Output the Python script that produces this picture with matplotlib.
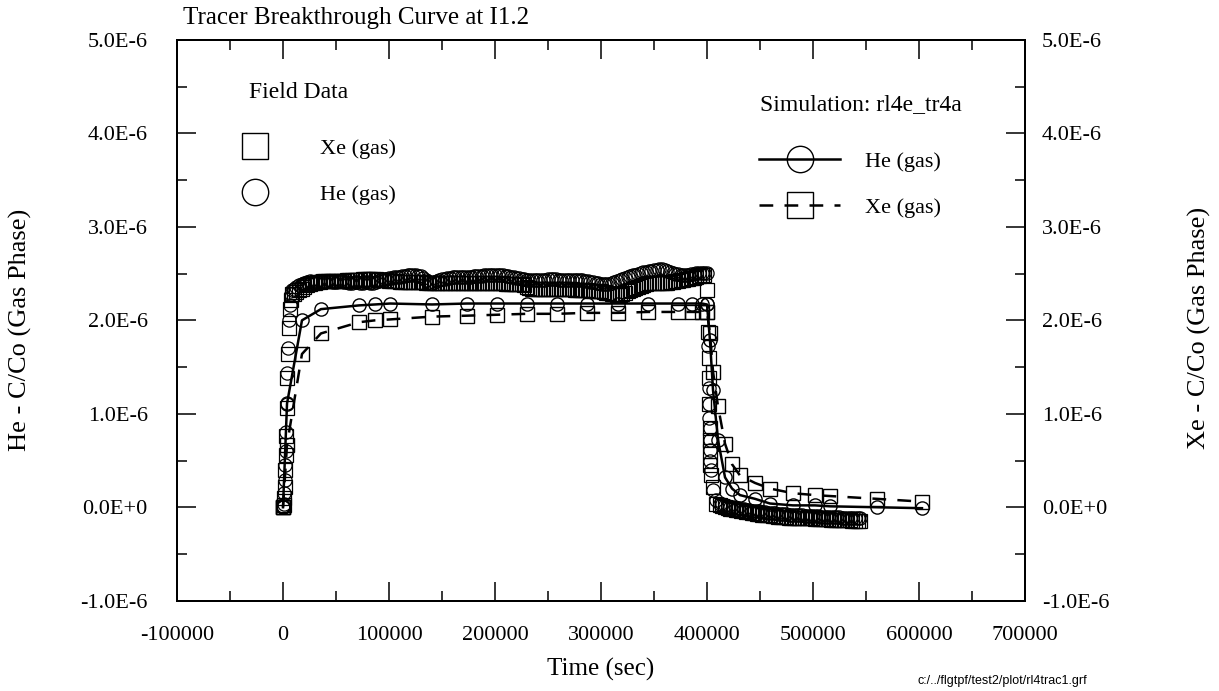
import numpy as np
import matplotlib
matplotlib.use("Agg")
import matplotlib.pyplot as plt
from matplotlib.lines import Line2D
from matplotlib.ticker import MultipleLocator, FuncFormatter

plt.rcParams["font.family"] = ["Liberation Serif", "DejaVu Serif"]

# ---- field data (C/Co in units of 1e-6) ----
rise_time = [0, 200, 400, 700, 1000, 1500, 2000, 2500, 3000, 3500, 4000, 4500, 5500, 6500, 7500, 8500]
rise_he = [0.0, 0.0, 0.01, 0.03, 0.15, 0.29, 0.45, 0.60, 0.80, 1.12, 1.44, 1.70, 2.00, 2.16, 2.28, 2.32]
rise_xe = [0.0, 0.0, 0.0, 0.02, 0.10, 0.22, 0.40, 0.56, 0.76, 1.06, 1.38, 1.64, 1.92, 2.12, 2.22, 2.28]

plateau_time = [
    10000, 12500, 15000, 17500, 20000, 22500, 25000, 27500, 30000, 32500,
    35000, 37500, 40000, 42500, 45000, 47500, 50000, 52500, 55000, 57500,
    60000, 62500, 65000, 67500, 70000, 72500, 75000, 77500, 80000, 82500,
    85000, 87500, 90000, 92500, 95000, 97500, 100000, 102500, 105000, 107500,
    110000, 112500, 115000, 117500, 120000, 122500, 125000, 127500, 130000, 132500,
    135000, 137500, 140000, 142500, 145000, 147500, 150000, 152500, 155000, 157500,
    160000, 162500, 165000, 167500, 170000, 172500, 175000, 177500, 180000, 182500,
    185000, 187500, 190000, 192500, 195000, 197500, 200000, 202500, 205000, 207500,
    210000, 212500, 215000, 217500, 220000, 222500, 225000, 227500, 230000, 232500,
    235000, 237500, 240000, 242500, 245000, 247500, 250000, 252500, 255000, 257500,
    260000, 262500, 265000, 267500, 270000, 272500, 275000, 277500, 280000, 282500,
    285000, 287500, 290000, 292500, 295000, 297500, 300000, 302500, 305000, 307500,
    310000, 312500, 315000, 317500, 320000, 322500, 325000, 327500, 330000, 332500,
    335000, 337500, 340000, 342500, 345000, 347500, 350000, 352500, 355000, 357500,
    360000, 362500, 365000, 367500, 370000, 372500, 375000, 377500, 380000, 382500,
    385000, 387500, 390000, 392500, 395000, 397500,
]
plateau_he = [
    2.34, 2.36, 2.38, 2.39, 2.40, 2.41, 2.42, 2.41, 2.41, 2.42,
    2.42, 2.41, 2.41, 2.42, 2.42, 2.41, 2.41, 2.42, 2.42, 2.41,
    2.41, 2.40, 2.40, 2.41, 2.41, 2.40, 2.40, 2.41, 2.41, 2.40,
    2.40, 2.41, 2.42, 2.43, 2.44, 2.44, 2.45, 2.45, 2.46, 2.46,
    2.46, 2.47, 2.47, 2.48, 2.48, 2.48, 2.48, 2.47, 2.47, 2.45,
    2.43, 2.41, 2.40, 2.41, 2.42, 2.43, 2.44, 2.44, 2.45, 2.45,
    2.46, 2.46, 2.46, 2.46, 2.46, 2.46, 2.46, 2.46, 2.47, 2.47,
    2.47, 2.47, 2.48, 2.48, 2.48, 2.48, 2.48, 2.48, 2.48, 2.48,
    2.47, 2.47, 2.46, 2.46, 2.45, 2.45, 2.44, 2.44, 2.43, 2.43,
    2.43, 2.43, 2.43, 2.43, 2.43, 2.43, 2.44, 2.44, 2.44, 2.44,
    2.43, 2.43, 2.43, 2.43, 2.43, 2.43, 2.43, 2.43, 2.43, 2.43,
    2.42, 2.42, 2.41, 2.41, 2.40, 2.40, 2.39, 2.39, 2.39, 2.39,
    2.40, 2.41, 2.42, 2.43, 2.44, 2.45, 2.46, 2.47, 2.48, 2.49,
    2.50, 2.51, 2.52, 2.52, 2.53, 2.53, 2.54, 2.54, 2.55, 2.55,
    2.54, 2.53, 2.52, 2.51, 2.50, 2.50, 2.49, 2.49, 2.49, 2.49,
    2.50, 2.50, 2.51, 2.51, 2.51, 2.51,
]
plateau_xe = [
    2.28, 2.30, 2.32, 2.34, 2.36, 2.38, 2.39, 2.40, 2.40, 2.41,
    2.41, 2.42, 2.42, 2.42, 2.42, 2.42, 2.42, 2.42, 2.42, 2.42,
    2.43, 2.43, 2.43, 2.43, 2.43, 2.43, 2.44, 2.44, 2.44, 2.44,
    2.44, 2.44, 2.43, 2.43, 2.43, 2.43, 2.42, 2.42, 2.42, 2.42,
    2.41, 2.41, 2.41, 2.41, 2.41, 2.41, 2.41, 2.41, 2.41, 2.41,
    2.40, 2.40, 2.40, 2.40, 2.40, 2.40, 2.40, 2.40, 2.40, 2.40,
    2.40, 2.40, 2.40, 2.40, 2.40, 2.40, 2.40, 2.40, 2.40, 2.40,
    2.40, 2.40, 2.40, 2.40, 2.40, 2.40, 2.40, 2.40, 2.40, 2.40,
    2.39, 2.39, 2.39, 2.39, 2.39, 2.39, 2.39, 2.38, 2.36, 2.35,
    2.34, 2.34, 2.34, 2.34, 2.34, 2.34, 2.34, 2.34, 2.34, 2.34,
    2.34, 2.34, 2.34, 2.34, 2.34, 2.34, 2.33, 2.33, 2.32, 2.32,
    2.32, 2.32, 2.31, 2.31, 2.31, 2.31, 2.31, 2.30, 2.29, 2.29,
    2.28, 2.28, 2.27, 2.27, 2.28, 2.29, 2.31, 2.32, 2.34, 2.35,
    2.36, 2.37, 2.38, 2.39, 2.40, 2.40, 2.40, 2.40, 2.40, 2.40,
    2.40, 2.40, 2.41, 2.41, 2.42, 2.42, 2.43, 2.43, 2.44, 2.44,
    2.45, 2.45, 2.46, 2.47, 2.48, 2.49,
]

drop_time = [400000, 400400, 401000, 401600, 402000, 402300, 402600, 402800, 403000, 403200, 403400, 405700, 408500]
drop_he = [2.51, 2.18, 1.73, 1.28, 1.11, 0.96, 0.85, 0.72, 0.61, 0.50, 0.40, 0.18, 0.08]
drop_xe = [2.33, 2.09, 1.87, 1.60, 1.38, 1.10, 0.85, 0.72, 0.60, 0.45, 0.35, 0.22, 0.04]

tail_time = [
    412000, 414500, 417000, 419500, 422000, 424500, 427000, 429500, 432000, 434500,
    437000, 439500, 442000, 444500, 447000, 449500, 452000, 454500, 457000, 459500,
    462000, 464500, 467000, 469500, 472000, 474500, 477000, 479500, 482000, 484500,
    487000, 489500, 492000, 494500, 497000, 499500, 502000, 504500, 507000, 509500,
    512000, 514500, 517000, 519500, 522000, 524500, 527000, 529500, 532000, 534500,
    537000, 539500, 542000, 544500,
]
tail_he = [
    0.04, 0.03, 0.02, 0.01, 0.0, 0.0, -0.01, -0.01, -0.02, -0.02,
    -0.03, -0.03, -0.04, -0.04, -0.04, -0.04, -0.05, -0.05, -0.06, -0.06,
    -0.06, -0.06, -0.07, -0.07, -0.07, -0.07, -0.08, -0.08, -0.08, -0.08,
    -0.08, -0.08, -0.09, -0.09, -0.09, -0.09, -0.09, -0.09, -0.10, -0.10,
    -0.10, -0.10, -0.10, -0.10, -0.10, -0.10, -0.11, -0.11, -0.11, -0.11,
    -0.11, -0.11, -0.11, -0.11,
]
tail_xe = [
    0.02, 0.01, 0.0, -0.01, -0.02, -0.02, -0.03, -0.03, -0.04, -0.04,
    -0.05, -0.05, -0.06, -0.06, -0.07, -0.07, -0.08, -0.08, -0.08, -0.08,
    -0.09, -0.09, -0.10, -0.10, -0.10, -0.10, -0.11, -0.11, -0.11, -0.11,
    -0.12, -0.12, -0.12, -0.12, -0.12, -0.12, -0.13, -0.13, -0.13, -0.13,
    -0.13, -0.13, -0.14, -0.14, -0.14, -0.14, -0.14, -0.14, -0.14, -0.14,
    -0.15, -0.15, -0.15, -0.15,
]

# ---- simulation rl4e_tr4a (C/Co in units of 1e-6) ----
sim_time = [0, 3800, 17900, 35800, 71700, 86800, 101000,
            140600, 173600, 201900, 230200, 258500, 286800, 316000, 344300, 372600, 385800, 395300,
            400000, 402800, 405700, 410400, 417000, 423600, 431100, 445300, 459400, 481100,
            501900, 516000, 560400, 602800]
sim_he = [0.0, 1.11, 2.00, 2.12, 2.16, 2.17, 2.18,
          2.17, 2.18, 2.18, 2.18, 2.18, 2.18, 2.18, 2.18, 2.18, 2.18, 2.18,
          2.17, 1.79, 1.25, 0.72, 0.32, 0.20, 0.13, 0.09, 0.04, 0.02,
          0.02, 0.01, 0.0, -0.01]
sim_xe = [0.0, 0.67, 1.64, 1.86, 1.98, 2.00, 2.01,
          2.04, 2.05, 2.06, 2.07, 2.07, 2.08, 2.08, 2.09, 2.09, 2.09, 2.09,
          2.09, 1.86, 1.45, 1.08, 0.68, 0.46, 0.34, 0.26, 0.20, 0.15,
          0.13, 0.12, 0.09, 0.06]

UNIT = 1e-6
field_time = rise_time + plateau_time + drop_time + tail_time
field_he = np.array(rise_he + plateau_he + drop_he + tail_he) * UNIT
field_xe = np.array(rise_xe + plateau_xe + drop_xe + tail_xe) * UNIT

W, H = 1219, 691
fig = plt.figure(figsize=(W / 100, H / 100), dpi=100)
ax = fig.add_axes([177 / W, 1 - 600.7 / H, (1025 - 177) / W, (600.7 - 40) / H])

mk = dict(ls="none", ms=9.5, mfc="none", mec="k", mew=0.9)
ax.plot(field_time, field_xe, marker="s", **mk)
ax.plot(field_time, field_he, marker="o", **mk)

ax.plot(sim_time, np.array(sim_he) * UNIT, color="k", lw=1.8, marker="o",
        ms=9.5, mfc="none", mec="k", mew=1.0)
ax.plot(sim_time, np.array(sim_xe) * UNIT, color="k", lw=1.8, ls=(0, (5.5, 4.5)),
        marker="s", ms=9.5, mfc="none", mec="k", mew=1.0)

ax.set_xlim(-100000, 700000)
ax.set_ylim(-1e-6, 5e-6)

ax.xaxis.set_major_locator(MultipleLocator(100000))
ax.xaxis.set_minor_locator(MultipleLocator(50000))
ax.xaxis.set_major_formatter(FuncFormatter(lambda v, p: f"{int(round(v))}"))


def fmt_y(v, pos):
    m = v / UNIT
    if abs(m) < 1e-9:
        return "0.0E+0"
    return f"{m:.1f}E-6"


ax2 = ax.twinx()
ax2.set_ylim(ax.get_ylim())
for a in (ax, ax2):
    a.yaxis.set_major_locator(MultipleLocator(1e-6))
    a.yaxis.set_minor_locator(MultipleLocator(0.5e-6))
    a.yaxis.set_major_formatter(FuncFormatter(fmt_y))
    a.yaxis.get_offset_text().set_visible(False)
    for s in a.spines.values():
        s.set_linewidth(1.4)

ax.tick_params(which="both", direction="in", top=True, right=False, width=1.1, labelsize=16)
ax.tick_params(which="major", length=13.5)
ax.tick_params(which="minor", length=7)
ax.tick_params(axis="x", pad=18.5)
ax.tick_params(axis="y", pad=21)
ax2.tick_params(which="both", direction="in", width=1.1, labelsize=16, pad=12)
ax2.tick_params(which="major", length=13.5)
ax2.tick_params(which="minor", length=7)

# titles and axis labels
fig.text(183 / W, 1 - 18 / H, "Tracer Breakthrough Curve at I1.2", fontsize=18, va="center", ha="left")
fig.text(601 / W, 1 - 669 / H, "Time (sec)", fontsize=18, va="center", ha="center")
fig.text(20 / W, 1 - 330 / H, "He - C/Co (Gas Phase)", fontsize=19, rotation=90, va="center", ha="center")
fig.text(1199 / W, 1 - 328 / H, "Xe - C/Co (Gas Phase)", fontsize=19, rotation=90, va="center", ha="center")
fig.text(917 / W, 1 - 681 / H, "c:/../flgtpf/test2/plot/rl4trac1.grf", fontsize=9,
         family="Liberation Sans", va="center", ha="left")

# legends (headings placed separately to get the wide gap under them)
fig.text(249 / W, 1 - 93 / H, "Field Data", fontsize=17, va="center", ha="left")
fig.text(760 / W, 1 - 105 / H, "Simulation: rl4e_tr4a", fontsize=17, va="center", ha="left")

field_handles = [
    Line2D([], [], ls="none", marker="s", ms=19, mfc="none", mec="k", mew=1.0),
    Line2D([], [], ls="none", marker="o", ms=19, mfc="none", mec="k", mew=1.0),
]
leg1 = ax2.legend(field_handles, ["Xe (gas)", "He (gas)"],
                  loc="upper left", bbox_to_anchor=(242 / W, 1 - 138 / H),
                  bbox_transform=fig.transFigure, frameon=False, fontsize=16,
                  handlelength=1.2, handletextpad=2.3,
                  labelspacing=1.17, borderpad=0, borderaxespad=0)
ax2.add_artist(leg1)

sim_handles = [
    Line2D([], [], color="k", lw=1.8, marker="o", ms=19, mfc="none", mec="k", mew=1.0),
    Line2D([], [], color="k", lw=1.8, ls=(0, (5.5, 4.5)), marker="s", ms=19,
           mfc="none", mec="k", mew=1.0),
]
ax2.legend(sim_handles, ["He (gas)", "Xe (gas)"],
           loc="upper left", bbox_to_anchor=(759 / W, 1 - 151 / H),
           bbox_transform=fig.transFigure, frameon=False, fontsize=16,
           handlelength=3.65, handletextpad=1.1,
           labelspacing=1.17, borderpad=0, borderaxespad=0, numpoints=1)

fig.savefig("out.png", dpi=100)
